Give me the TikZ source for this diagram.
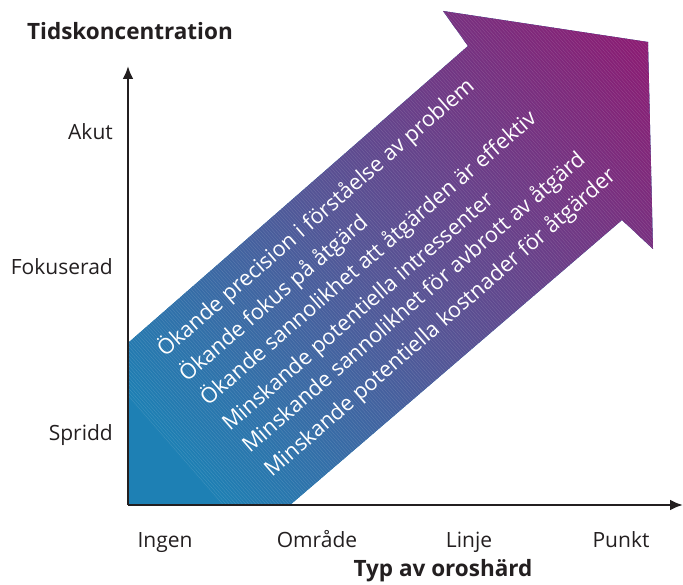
\documentclass[tikz,border=0pt]{standalone}
\usepackage{fontspec}
\setmainfont{Open Sans}
\usetikzlibrary{arrows.meta}
\definecolor{ablue}{RGB}{30,128,180}
\definecolor{axiscol}{RGB}{35,31,32}
\begin{document}
\begin{tikzpicture}[x=1pt,y=-1pt,
  axisline/.style={draw=axiscol, line width=2.5pt, -{Latex[length=13pt,width=11pt]}},
  ticklabel/.style={font=\fontsize{21}{25}\selectfont, text=axiscol, inner sep=0pt},
  axistitle/.style={font=\fontsize{22.5}{26}\selectfont\bfseries, text=axiscol, inner sep=0pt, anchor=base},
  arrowtext/.style={font=\fontsize{21.6}{25}\selectfont, text=white, rotate=41, anchor=base west, inner sep=0pt}]
\useasboundingbox (0,0) rectangle (683,585);
\coordinate (O) at (128,505);
\coordinate (ytop) at (128,66);
\coordinate (xend) at (683,505);
% big arrow
\begin{scope}
  \clip (128,343) -- (468,46) -- (443,11) -- (648,42) -- (653,249) -- (622,220) -- (290,505) -- (128,505) -- cycle;
  \fill[ablue] (0,0) rectangle (683,585);
  \begin{scope}[shift={(128,505)}, rotate=41]
    \foreach \t in {70,72,...,720}{
      \pgfmathsetmacro\fa{min(1,(\t-70)/270)}
      \pgfmathsetmacro\fb{max(0,min(1,(\t-340)/350))}
      \pgfmathtruncatemacro\rr{30+55*\fa+55*\fb}
      \pgfmathtruncatemacro\gg{128-43*\fa-57*\fb}
      \pgfmathtruncatemacro\bb{180-30*\fa-35*\fb}
      \definecolor{cc}{RGB}{\rr,\gg,\bb}
      \fill[cc] (\t,-500) rectangle (\t+2.4,500);
    }
    \foreach \t in {72,74.5,...,720} \draw[white, opacity=0.15, line width=0.4pt] (\t,-500) -- (\t,500);
  \end{scope}
\end{scope}
% texts in the arrow
\node[arrowtext] (t1) at (165,358) {Ökande precision i förståelse av problem};
\node[arrowtext] (t2) at (187,383) {Ökande fokus på åtgärd};
\node[arrowtext] (t3) at (208,407) {Ökande sannolikhet att åtgärden är effektiv};
\node[arrowtext] (t4) at (230,432) {Minskande potentiella intressenter};
\node[arrowtext] (t5) at (250,454) {Minskande sannolikhet för avbrott av åtgärd};
\node[arrowtext] (t6) at (272,478) {Minskande potentiella kostnader för åtgärder};
% axes
\draw[axisline] (O) -- (ytop);
\draw[axisline] (O) -- (xend);
% axis titles
\node[axistitle] (ytitle) at (130,40) {Tidskoncentration};
\node[axistitle] (xtitle) at (443,576) {Typ av oroshärd};
% tick labels
\node[ticklabel, anchor=base east] (akut) at (113,140) {Akut};
\node[ticklabel, anchor=base east] (fok) at (113,275) {Fokuserad};
\node[ticklabel, anchor=base east] (spr) at (113,440) {Spridd};
\node[ticklabel, anchor=base] (ingen) at (165,547) {Ingen};
\node[ticklabel, anchor=base] (omr) at (317,547) {Område};
\node[ticklabel, anchor=base] (linje) at (469,547) {Linje};
\node[ticklabel, anchor=base] (punkt) at (621,547) {Punkt};
\end{tikzpicture}
\end{document}
